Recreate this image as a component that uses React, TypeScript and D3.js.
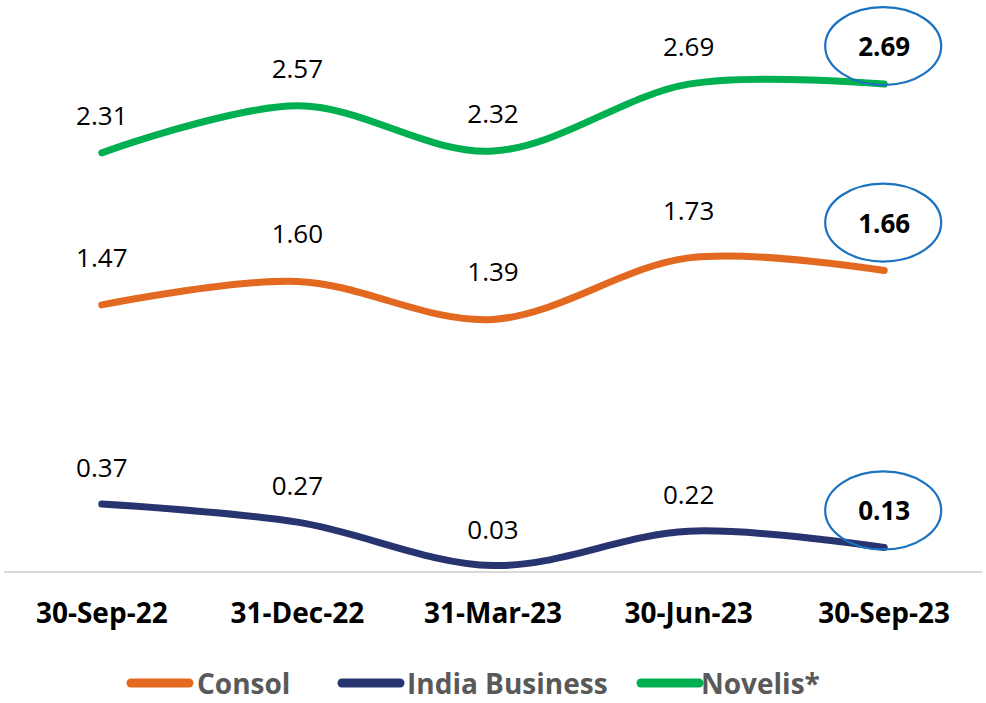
import * as d3 from 'd3';

const QUARTERS = ['30-Sep-22', '31-Dec-22', '31-Mar-23', '30-Jun-23', '30-Sep-23'];
const CONSOL = [1.47, 1.6, 1.39, 1.73, 1.66];
const INDIA = [0.37, 0.27, 0.03, 0.22, 0.13];
const NOVELIS = [2.31, 2.57, 2.32, 2.69, 2.69];

const SERIES = [
  { name: 'Consol', values: CONSOL, color: '#E2691F', labelGap: 48 },
  { name: 'India Business', values: INDIA, color: '#283470', labelGap: 37 },
  { name: 'Novelis*', values: NOVELIS, color: '#00B050', labelGap: 38 },
];

const W = 986;
const H = 703;
const FONT = '"Open Sans", "Noto Sans", sans-serif';

export default function App() {
  const x = d3.scalePoint<string>().domain(QUARTERS).range([4, 982]).padding(0.5);
  const y = d3.scaleLinear().domain([0, 3]).range([571, 28]);
  const line = d3
    .line<number>()
    .x((_, i) => x(QUARTERS[i]) ?? 0)
    .y((v) => y(v))
    .curve(d3.curveCardinal.tension(0));

  // legend swatch start / text start
  const legendItems = [
    { sx: 127, tx: 197 },
    { sx: 338, tx: 407 },
    { sx: 637, tx: 701 },
  ];

  return (
    <svg
      width={W}
      height={H}
      viewBox={`0 0 ${W} ${H}`}
      style={{ position: 'absolute', left: 0, top: 0, background: '#fff' }}
      fontFamily={FONT}
    >
      <line x1={4} x2={982} y1={572} y2={572} stroke="#d9d9d9" strokeWidth={2} />

      {SERIES.map((s) => (
        <path
          key={s.name}
          d={line(s.values) ?? undefined}
          fill="none"
          stroke={s.color}
          strokeWidth={7}
          strokeLinecap="round"
        />
      ))}

      {SERIES.map((s) =>
        s.values.map((v, i) => {
          const cx = x(QUARTERS[i]) ?? 0;
          const cy = y(v) - s.labelGap;
          const last = i === s.values.length - 1;
          return (
            <g key={`${s.name}-${i}`}>
              {last && (
                <ellipse cx={cx - 1} cy={cy} rx={58} ry={39} fill="none" stroke="#1B72C0" strokeWidth={2.2} />
              )}
              <text
                x={cx}
                y={cy}
                textAnchor="middle"
                dominantBaseline="central"
                fontSize={26}
                fontWeight={last ? 700 : 400}
                fill="#000"
              >
                {v.toFixed(2)}
              </text>
            </g>
          );
        }),
      )}

      {QUARTERS.map((q) => (
        <text
          key={q}
          x={x(q) ?? 0}
          y={612}
          textAnchor="middle"
          dominantBaseline="central"
          fontSize={28}
          fontWeight={700}
          fill="#000"
        >
          {q}
        </text>
      ))}

      {SERIES.map((s, i) => (
        <g key={`lg-${s.name}`}>
          <line
            x1={legendItems[i].sx + 4}
            x2={legendItems[i].sx + 62}
            y1={683}
            y2={683}
            stroke={s.color}
            strokeWidth={9}
            strokeLinecap="round"
          />
          <text
            x={legendItems[i].tx}
            y={683}
            dominantBaseline="central"
            fontSize={28}
            fontWeight={700}
            fill="#595959"
          >
            {s.name}
          </text>
        </g>
      ))}
    </svg>
  );
}
